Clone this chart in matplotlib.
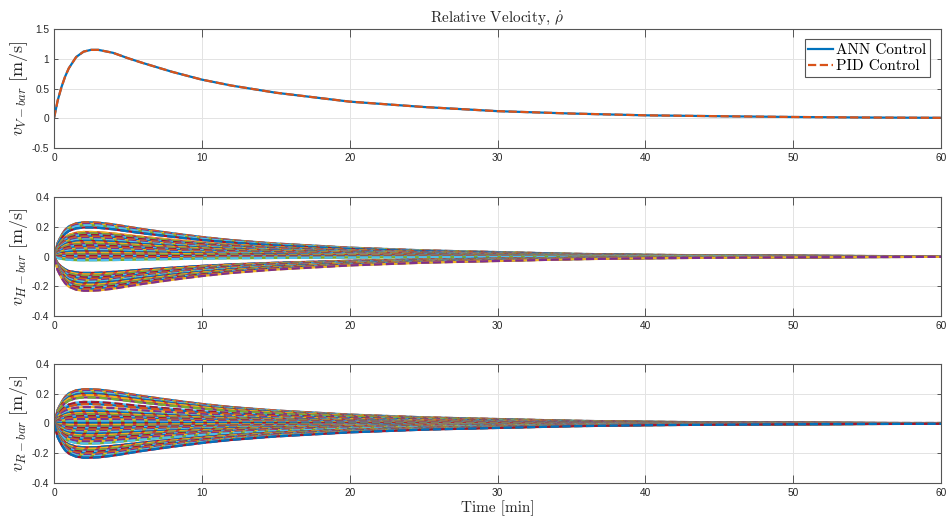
import numpy as np
import matplotlib.pyplot as plt
from matplotlib.ticker import FuncFormatter

# time samples (min)
t = [0, 0.25, 0.5, 0.75, 1, 1.5, 2, 2.5, 3, 4, 5, 6, 8, 10, 12, 15,
     20, 25, 30, 35, 40, 45, 50, 55, 60]

# top panel: v_V-bar [m/s]
v_bar = [0, 0.30, 0.52, 0.70, 0.84, 1.03, 1.12, 1.15, 1.15, 1.10, 1.01,
         0.93, 0.78, 0.65, 0.55, 0.43, 0.28, 0.19, 0.12, 0.08, 0.05,
         0.035, 0.022, 0.013, 0.008]

# common profile of the H-bar / R-bar runs (peak = 1)
profile = [0, 0.40, 0.62, 0.78, 0.88, 0.97, 1.0, 1.0, 0.99, 0.94, 0.87,
           0.80, 0.68, 0.57, 0.48, 0.38, 0.26, 0.18, 0.13, 0.08, 0.05,
           0.035, 0.022, 0.014, 0.009]

# peak value of every run [m/s]
peaks_h = [0.23, 0.22, 0.21, 0.195, 0.165, 0.155, 0.145, 0.135, 0.125,
           0.115, 0.105, 0.095, 0.085, 0.075, 0.065, 0.055, 0.045, 0.035,
           0.025, 0.015, 0.005, -0.005, -0.015, -0.025,
           -0.11, -0.12, -0.13, -0.14, -0.15, -0.16, -0.17, -0.18, -0.19,
           -0.20, -0.21, -0.22, -0.23]
peaks_r = [0.23, 0.22, 0.21, 0.20, 0.19, 0.175, 0.145, 0.13, 0.11, 0.09,
           0.08, 0.07, 0.06, 0.05, 0.04, 0.03, 0.015, 0.0, -0.01, -0.02,
           -0.03, -0.04, -0.05, -0.06, -0.07, -0.08, -0.09, -0.10, -0.11,
           -0.12, -0.135, -0.16, -0.17, -0.18, -0.19, -0.20, -0.21, -0.22,
           -0.23]

xticks = [0, 10, 20, 30, 40, 50, 60]
yticks_v = [-0.5, 0, 0.5, 1, 1.5]
yticks_hr = [-0.4, -0.2, 0, 0.2, 0.4]

colors = ['#0072BD', '#D95319', '#EDB120', '#7E2F8E', '#77AC30',
          '#4DBEEE', '#A2142F']

plt.rcParams['mathtext.fontset'] = 'cm'
plt.rcParams['axes.unicode_minus'] = False
plt.rcParams['font.family'] = 'Liberation Sans'

fig = plt.figure(figsize=(9.49, 5.25), dpi=100)
ax1 = fig.add_axes([0.0569, 0.718, 0.9347, 0.2267])
ax2 = fig.add_axes([0.0569, 0.398, 0.9347, 0.2267])
ax3 = fig.add_axes([0.0569, 0.080, 0.9347, 0.2267])

lw = 1.6
t = np.array(t)
profile = np.array(profile)

ax1.plot(t, v_bar, '-', color=colors[0], lw=lw, label='ANN Control')
ax1.plot(t, v_bar, '--', color=colors[1], lw=lw, label='PID Control')

for ax, peaks in [(ax2, peaks_h), (ax3, peaks_r)]:
    k = 0
    for p in peaks:
        y = p * profile
        ax.plot(t, y, '-', color=colors[k % 7], lw=lw)
        ax.plot(t, y, '--', color=colors[(k + 1) % 7], lw=lw)
        k += 2

fmt = FuncFormatter(lambda v, pos: '%g' % v)
gray = '#262626'
for ax, yt in [(ax1, yticks_v), (ax2, yticks_hr), (ax3, yticks_hr)]:
    ax.set_xlim(0, 60)
    ax.set_ylim(yt[0], yt[-1])
    ax.set_xticks(xticks)
    ax.set_yticks(yt)
    ax.xaxis.set_major_formatter(fmt)
    ax.yaxis.set_major_formatter(fmt)
    ax.grid(True, color='#e3e3e3', lw=0.7)
    ax.set_axisbelow(True)
    ax.tick_params(direction='in', top=True, right=True, labelsize=7.3,
                   colors='#555555', labelcolor=gray, width=0.7)
    ax.tick_params(axis='x', length=6)
    ax.tick_params(axis='y', length=3)
    for s in ax.spines.values():
        s.set_color('#555555')
        s.set_linewidth(0.8)

ax1.set_ylabel(r'$v_{V-bar}\ [\mathrm{m/s}]$', fontsize=13, color=gray, labelpad=1)
ax2.set_ylabel(r'$v_{H-bar}\ [\mathrm{m/s}]$', fontsize=13, color=gray, labelpad=1)
ax3.set_ylabel(r'$v_{R-bar}\ [\mathrm{m/s}]$', fontsize=13, color=gray, labelpad=1)
ax3.set_xlabel('Time [min]', fontsize=11, color=gray, family='cmr10', labelpad=2)
ax1.set_title(r'Relative Velocity, $\dot{\rho}$', fontsize=11, color=gray,
              family='cmr10', pad=5)

leg = ax1.legend(loc='upper right', bbox_to_anchor=(0.9876, 0.9134),
                 borderaxespad=0, fancybox=False, framealpha=1,
                 edgecolor='#555555', handlelength=1.6, handletextpad=0.2,
                 borderpad=0.25, labelspacing=0.15,
                 prop={'family': 'cmr10', 'size': 11})
leg.get_frame().set_linewidth(0.8)

fig.savefig('out.png', dpi=100)
